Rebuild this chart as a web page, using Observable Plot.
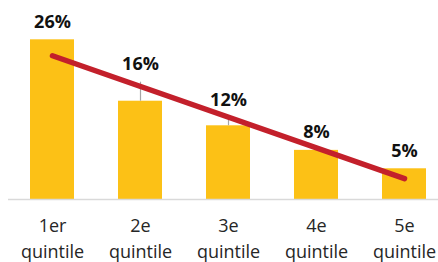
<!DOCTYPE html>
<html>
<head>
<meta charset="utf-8">
<script src="https://cdn.jsdelivr.net/npm/d3@7"></script>
<script src="https://cdn.jsdelivr.net/npm/@observablehq/plot@0.6"></script>
<style>
  html, body { margin: 0; padding: 0; background: #fff; }
  #chart svg { display: block; }
</style>
</head>
<body>
<div id="chart"></div>
<script>
const categories = ["1er\nquintile", "2e\nquintile", "3e\nquintile", "4e\nquintile", "5e\nquintile"];
const values = [26, 16, 12, 8, 5];
const labels = ["26%", "16%", "12%", "8%", "5%"];
const errorHigh = [26, 19.1, 13.3, 8, 5];
const trendCategories = ["1er\nquintile", "5e\nquintile"];
const trendValues = [23.4, 3.4];

const bars = categories.map((c, i) => ({c, v: values[i], label: labels[i], e: errorHigh[i]}));
const errs = bars.filter(d => d.e > d.v);
const trend = trendCategories.map((c, i) => ({c, v: trendValues[i]}));

const chart = Plot.plot({
  width: 438,
  height: 262,
  marginTop: 0,
  marginBottom: 63,
  marginLeft: 8,
  marginRight: 0,
  style: {fontFamily: "'Open Sans', sans-serif", background: "#fff"},
  x: {domain: categories, range: [8, 448], paddingInner: 0.5, paddingOuter: 0.25, align: 0.5, label: null},
  y: {domain: [0, 32.4], axis: null},
  marks: [
    Plot.barY(bars, {x: "c", y: "v", fill: "#FCC116"}),
    Plot.ruleX(errs, {x: "c", y1: "v", y2: "e", stroke: "#A6A6A6", strokeWidth: 1.2}),
    Plot.ruleY([0], {stroke: "#D9D9D9", strokeWidth: 1.5}),
    Plot.line(trend, {x: "c", y: "v", stroke: "#C3202B", strokeWidth: 5.5, strokeLinecap: "round"}),
    Plot.text(bars, {x: "c", y: "e", text: "label", dy: -12, lineAnchor: "bottom", fontSize: 18, fontWeight: "bold", fill: "#111"}),
    Plot.axisX({tickSize: 0, tickPadding: 14, fontSize: 18, lineHeight: 1.45, fill: "#262626", label: null})
  ]
});
document.getElementById("chart").appendChild(chart);
</script>
</body>
</html>
